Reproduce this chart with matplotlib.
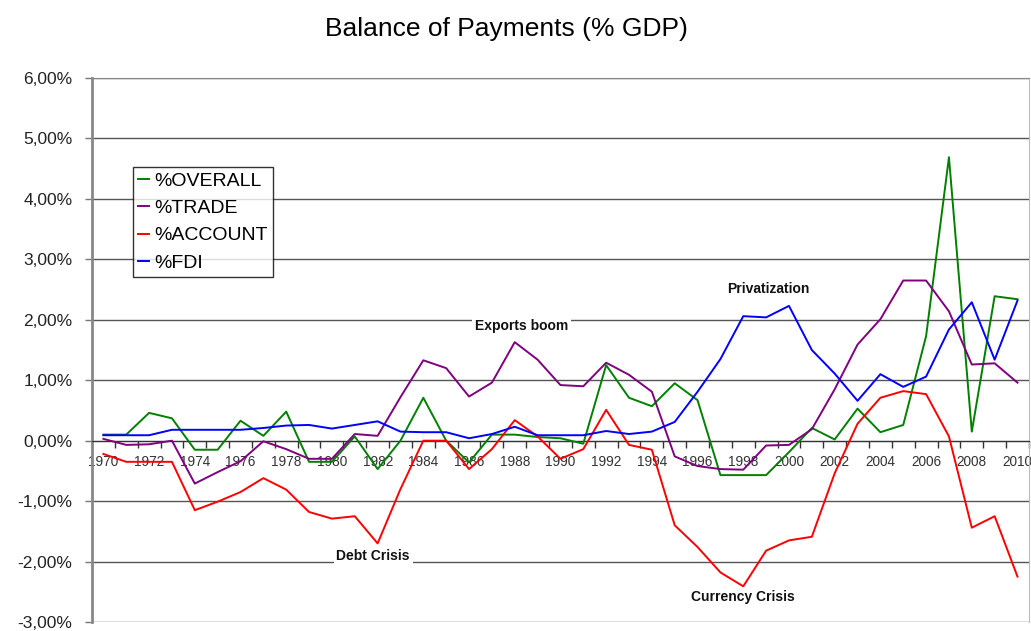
import numpy as np
import matplotlib
matplotlib.use("Agg")
import matplotlib.pyplot as plt

plt.rcParams['font.family'] = ['Liberation Sans', 'DejaVu Sans']

##### data (% of GDP)
years = list(range(1970, 2011))

overall = [0.10, 0.10, 0.46, 0.37, -0.15, -0.15, 0.33, 0.08, 0.48, -0.35,
           -0.35, 0.07, -0.47, 0.00, 0.71, 0.00, -0.36, 0.10, 0.10, 0.06,
           0.04, -0.05, 1.25, 0.71, 0.57, 0.95, 0.67, -0.57, -0.57, -0.57,
           -0.19, 0.21, 0.02, 0.53, 0.14, 0.26, 1.73, 4.69, 0.15, 2.39, 2.34]

trade = [0.03, -0.07, -0.06, 0.00, -0.71, -0.52, -0.34, -0.01, -0.14, -0.30,
         -0.30, 0.11, 0.08, 0.72, 1.33, 1.20, 0.73, 0.96, 1.63, 1.34,
         0.92, 0.90, 1.29, 1.09, 0.81, -0.26, -0.42, -0.47, -0.48, -0.08,
         -0.07, 0.19, 0.85, 1.59, 2.01, 2.65, 2.65, 2.14, 1.26, 1.28, 0.96]

account = [-0.22, -0.35, -0.35, -0.35, -1.15, -1.01, -0.85, -0.62, -0.81, -1.18,
           -1.29, -1.25, -1.70, -0.80, 0.00, 0.00, -0.47, -0.14, 0.34, 0.07,
           -0.30, -0.14, 0.51, -0.07, -0.15, -1.40, -1.76, -2.18, -2.41, -1.82,
           -1.65, -1.59, -0.54, 0.28, 0.71, 0.82, 0.77, 0.07, -1.44, -1.25, -2.25]

fdi = [0.09, 0.09, 0.09, 0.18, 0.18, 0.18, 0.18, 0.21, 0.25, 0.26,
       0.20, 0.26, 0.32, 0.15, 0.14, 0.14, 0.04, 0.11, 0.23, 0.09,
       0.09, 0.09, 0.16, 0.11, 0.15, 0.31, 0.81, 1.35, 2.06, 2.04,
       2.23, 1.50, 1.11, 0.66, 1.10, 0.89, 1.06, 1.84, 2.29, 1.34, 2.32]

series_names = ["%OVERALL", "%TRADE", "%ACCOUNT", "%FDI"]
series_colors = ["#008000", "#800080", "#ff0000", "#0000ff"]

events = [("Exports boom", 1988.3, 1.90),
          ("Privatization", 1999.1, 2.51),
          ("Debt Crisis", 1981.8, -1.91),
          ("Currency Crisis", 1998.0, -2.59)]

#####
fig = plt.figure(figsize=(10.31, 6.31), dpi=100)
ax = fig.add_axes([0.0892, 0.0143, 0.9088, 0.862])

for vals, name, col in zip([overall, trade, account, fdi], series_names, series_colors):
    ax.plot(years, vals, color=col, lw=1.4, label=name, zorder=3)

ax.set_xlim(1969.5, 2010.5)
ax.set_ylim(-3, 6)

# horizontal grid
for v in range(-3, 7):
    ax.axhline(v, color="#555555", lw=1.0, zorder=1)

# y axis
ax.set_yticks(range(-3, 7))
ax.set_yticklabels([("%.2f%%" % v).replace(".", ",") for v in range(-3, 7)])
ax.tick_params(axis="y", direction="out", length=5, width=1, color="#777777",
               labelsize=12.5, labelcolor="#222222", pad=9)

# x axis sits on the zero line, ticks between years
ax.spines["bottom"].set_position(("data", 0))
ax.spines["bottom"].set_color("#333333")
ax.set_xticks(years[::2])
ax.set_xticklabels([str(y) for y in years[::2]])
ax.set_xticks(np.arange(1969.5, 2011, 1.0), minor=True)
ax.tick_params(axis="x", which="major", length=0, labelsize=9.8,
               labelcolor="#333333", pad=10)
ax.tick_params(axis="x", which="minor", direction="out", length=5,
               width=1, color="#333333")

ax.spines["left"].set_color("#888888")
ax.spines["left"].set_linewidth(2)
ax.spines["top"].set_color("#888888")
ax.spines["right"].set_color("#bbbbbb")

for txt, xx, yy in events:
    ax.text(xx, yy, txt, ha="center", va="center", fontsize=10,
            fontweight="bold", color="#111111", zorder=4,
            bbox=dict(facecolor="white", edgecolor="none", pad=2))

leg = ax.legend(loc="upper left", bbox_to_anchor=(0.0438, 0.836),
                borderaxespad=0, fontsize=14, frameon=True, fancybox=False,
                handlelength=0.55, handletextpad=0.3, labelspacing=0.5,
                borderpad=0.25)
leg.get_frame().set_edgecolor("black")
leg.get_frame().set_linewidth(1)
leg.set_zorder(5)

fig.text(0.491, 0.954, "Balance of Payments (% GDP)", ha="center",
         va="center", fontsize=19)

plt.savefig("out.png", dpi=100)
